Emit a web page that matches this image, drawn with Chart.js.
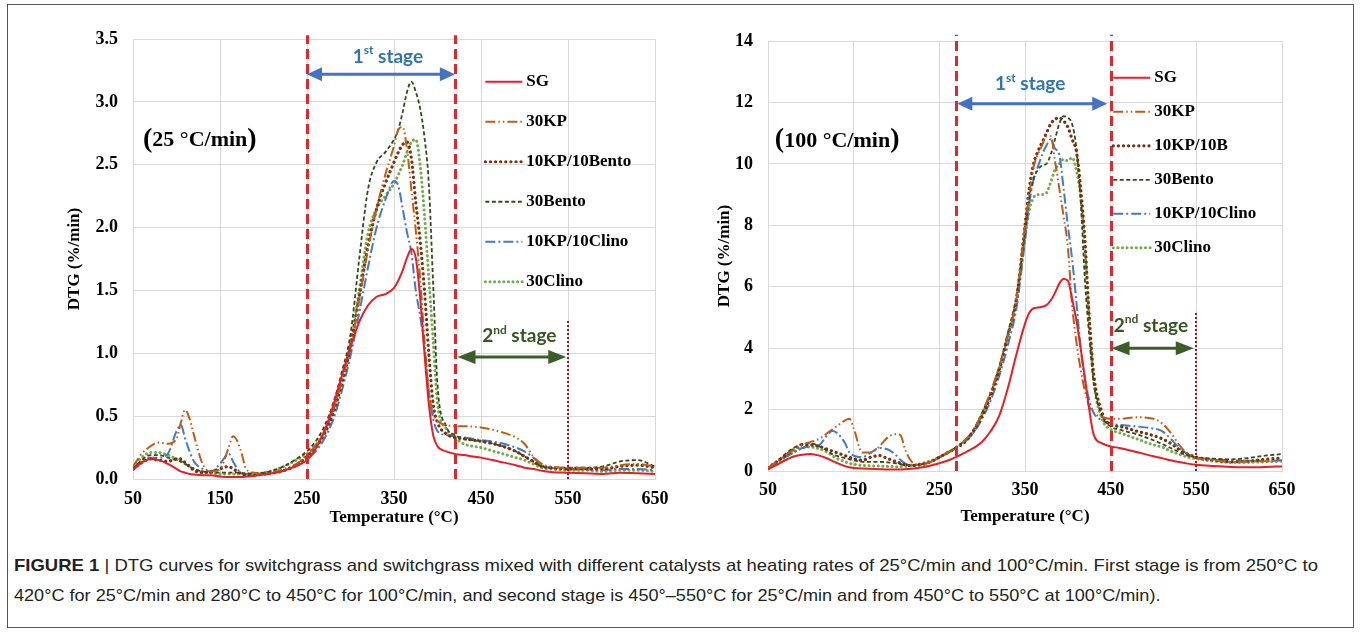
<!DOCTYPE html>
<html>
<head>
<meta charset="utf-8">
<script src="https://cdn.jsdelivr.net/npm/chart.js@4.4.1/dist/chart.umd.min.js"></script>
<style>
body { margin: 0; background: #fff; }
#wrap { position: relative; width: 1360px; height: 632px; overflow: hidden; }
#frame { position: absolute; left: 7px; top: 4px; width: 1347px; height: 624px; border: 1.5px solid #555; box-sizing: border-box; pointer-events: none; }
canvas { position: absolute; top: 0; }
#c1 { left: 0; }
#c2 { left: 680px; }
.cap { position: absolute; left: 14px; font-family: "Liberation Sans", Arial, sans-serif; font-size: 17px; color: #231f20; white-space: nowrap; transform-origin: 0 50%; }
.cap b { font-weight: bold; }
</style>
</head>
<body>
<div id="wrap">
  <canvas id="c1" width="680" height="540"></canvas>
  <canvas id="c2" width="680" height="540"></canvas>
  <div class="cap" id="cap1" style="top:556px"><b>FIGURE 1</b> | DTG curves for switchgrass and switchgrass mixed with different catalysts at heating rates of 25°C/min and 100°C/min. First stage is from 250°C to</div>
  <div class="cap" id="cap2" style="top:586px">420°C for 25°C/min and 280°C to 450°C for 100°C/min, and second stage is 450°–550°C for 25°C/min and from 450°C to 550°C at 100°C/min).</div>
  <div id="frame"></div>
</div>
<script>
// ---- 25 °C/min ----
const tempsL = [50,60,70,80,90,100, 105,110,115,120, 130,140,150,160, 165,170,175,180, 190,200,220,240,
  250,260,270,280, 290,300,310,320, 330,340,350,355, 360,365,370,375, 380,385,390,395,
  400,410,420,430, 450,470,490,500, 510,520,530,550, 570,590,610,630,650];

const sgL = [0.07,0.13,0.16,0.15,0.12,0.08, 0.06,0.05,0.04,0.035, 0.03,0.03,0.02,0.015, 0.015,0.015,0.015,0.02,
  0.025,0.035,0.06,0.11, 0.15,0.24,0.38,0.58, 0.82,1.05,1.25,1.38, 1.45,1.47,1.52,1.58, 1.66,1.76,1.83,1.76,
  1.45,1.0,0.6,0.35, 0.26,0.22,0.2,0.19, 0.17,0.14,0.11,0.09, 0.08,0.065,0.055,0.05, 0.045,0.04,0.05,0.045,0.04];
const kp30L = [0.1,0.2,0.26,0.29,0.28,0.32, 0.45,0.55,0.48,0.35, 0.12,0.06,0.08,0.25, 0.34,0.3,0.2,0.08,
  0.05,0.04,0.07,0.13, 0.19,0.27,0.38,0.55, 0.78,1.05,1.42,1.82, 2.15,2.42,2.65,2.78, 2.8,2.62,2.3,1.98,
  1.6,1.1,0.7,0.52, 0.46,0.43,0.42,0.42, 0.41,0.38,0.33,0.28, 0.18,0.12,0.1,0.09, 0.09,0.09,0.11,0.12,0.1];
const kpBentoL = [0.08,0.13,0.16,0.15,0.14,0.16, 0.16,0.13,0.1,0.07, 0.05,0.06,0.08,0.1, 0.08,0.06,0.04,0.03,
  0.03,0.04,0.06,0.12, 0.18,0.25,0.36,0.52, 0.76,1.05,1.45,1.85, 2.15,2.35,2.52,2.6, 2.66,2.68,2.55,2.2,
  1.9,1.5,1.0,0.6, 0.45,0.36,0.33,0.32, 0.3,0.27,0.22,0.18, 0.14,0.1,0.09,0.08, 0.08,0.08,0.1,0.11,0.09];
const bento30L = [0.08,0.15,0.19,0.19,0.17,0.15, 0.14,0.12,0.1,0.08, 0.06,0.05,0.05,0.05, 0.05,0.05,0.045,0.045,
  0.045,0.05,0.09,0.17, 0.22,0.3,0.42,0.6, 0.85,1.15,1.75,2.3, 2.52,2.6,2.7,2.78, 2.92,3.08,3.16,3.08,
  2.95,2.72,2.35,1.55, 0.75,0.42,0.35,0.32, 0.3,0.27,0.22,0.18, 0.14,0.1,0.09,0.09, 0.09,0.1,0.14,0.15,0.1];
const kpClinoL = [0.08,0.14,0.17,0.17,0.2,0.38, 0.43,0.32,0.22,0.14, 0.08,0.06,0.12,0.2, 0.14,0.08,0.05,0.04,
  0.03,0.04,0.06,0.11, 0.16,0.22,0.32,0.47, 0.7,0.98,1.32,1.68, 2.0,2.22,2.37,2.33, 2.15,1.96,1.8,1.5,
  1.3,1.05,0.7,0.48, 0.38,0.35,0.34,0.33, 0.31,0.29,0.25,0.22, 0.17,0.11,0.09,0.08, 0.08,0.07,0.08,0.08,0.07];
const clino30L = [0.1,0.17,0.21,0.21,0.19,0.16, 0.14,0.12,0.1,0.08, 0.06,0.05,0.04,0.04, 0.04,0.04,0.04,0.04,
  0.04,0.05,0.09,0.16, 0.2,0.27,0.38,0.55, 0.8,1.08,1.5,1.95, 2.15,2.25,2.35,2.42, 2.5,2.6,2.68,2.7,
  2.5,2.1,1.6,1.1, 0.6,0.4,0.33,0.28, 0.25,0.21,0.17,0.15, 0.12,0.09,0.08,0.07, 0.07,0.06,0.07,0.07,0.06];

// ---- 100 °C/min ----
const tempsR = [50,60,70,80,90,100,110, 120,125,130,140, 145,150,160,170, 180,190,200,205, 210,220,230,240,
  250,260,270,280, 290,300,310,320, 330,340,350,355, 360,365,370,375, 380,385,390,395,
  400,405,410,415, 420,425,430,440, 450,460,480,500, 510,520,530,540, 550,570,590,610, 630,650];

const sgR = [0.05,0.2,0.35,0.47,0.53,0.55,0.5, 0.4,0.33,0.27,0.16, 0.12,0.1,0.08,0.07, 0.06,0.05,0.05,0.05,
  0.06,0.08,0.12,0.18, 0.25,0.34,0.46,0.6, 0.75,0.95,1.3,1.8, 2.7,3.8,4.8,5.15, 5.3,5.32,5.35,5.4,
  5.55,5.8,6.1,6.25, 6.2,5.6,4.9,4.0, 3.0,2.0,1.2,0.9, 0.8,0.75,0.62,0.48, 0.42,0.35,0.29,0.24,
  0.2,0.16,0.13,0.12, 0.13,0.15];
const kp30R = [0.1,0.3,0.5,0.7,0.85,0.95,1.05, 1.25,1.35,1.45,1.65, 1.7,1.4,0.6,0.6, 0.8,1.1,1.2,1.15,
  0.7,0.25,0.2,0.3, 0.45,0.6,0.75,1.0, 1.35,1.9,2.6,3.4, 4.4,5.6,8.0,9.0, 9.9,10.3,10.6,10.9,
  10.9,10.1,9.2,8.3, 7.3,5.4,4.2,3.3, 2.6,2.1,1.9,1.75, 1.7,1.7,1.75,1.7, 1.55,1.25,0.85,0.55,
  0.42,0.35,0.3,0.3, 0.32,0.35];
const kpBR = [0.1,0.3,0.5,0.7,0.85,0.85,0.8, 0.7,0.65,0.6,0.5, 0.45,0.4,0.35,0.45, 0.5,0.4,0.3,0.25,
  0.2,0.18,0.22,0.3, 0.45,0.6,0.75,0.95, 1.3,1.8,2.45,3.3, 4.4,5.6,8.0,9.2, 10.0,10.4,10.7,11.0,
  11.3,11.45,11.5,11.4, 11.2,10.8,10.4,9.2, 7.5,5.0,3.2,1.9, 1.5,1.45,1.3,1.15, 1.05,0.9,0.7,0.55,
  0.45,0.35,0.3,0.32, 0.38,0.42];
const bento30R = [0.1,0.3,0.55,0.75,0.88,0.9,0.8, 0.65,0.55,0.5,0.42, 0.38,0.35,0.3,0.3, 0.3,0.28,0.25,0.22,
  0.2,0.18,0.22,0.3, 0.45,0.6,0.78,1.0, 1.35,1.9,2.55,3.4, 4.5,5.7,7.8,8.9, 9.5,9.8,9.95,10.0,
  10.3,10.8,11.3,11.55, 11.5,11.3,10.5,8.8, 6.2,4.4,2.9,1.8, 1.45,1.35,1.2,1.0, 0.88,0.75,0.62,0.5,
  0.45,0.4,0.38,0.42, 0.5,0.55];
const kpClinoR = [0.1,0.25,0.45,0.6,0.75,0.8,0.85, 1.2,1.3,1.25,0.9, 0.6,0.5,0.45,0.6, 0.75,0.7,0.5,0.35,
  0.25,0.2,0.22,0.3, 0.45,0.6,0.75,0.95, 1.25,1.7,2.3,3.1, 4.1,5.3,7.5,8.7, 9.5,9.9,10.3,10.6,
  10.8,10.5,10.3,9.2, 8.0,6.9,5.5,4.0, 3.0,2.3,1.9,1.65, 1.55,1.5,1.45,1.38, 1.3,1.05,0.75,0.55,
  0.45,0.38,0.35,0.33, 0.33,0.35];
const clino30R = [0.1,0.28,0.45,0.62,0.75,0.78,0.72, 0.6,0.5,0.42,0.3, 0.25,0.22,0.18,0.17, 0.16,0.15,0.14,0.14,
  0.15,0.18,0.25,0.33, 0.45,0.6,0.78,1.0, 1.3,1.85,2.5,3.35, 4.4,5.5,7.6,8.5, 8.9,9.0,9.0,9.05,
  9.4,9.8,10.0,10.15, 10.1,10.2,9.8,8.9, 7.2,5.0,3.0,1.7, 1.35,1.25,1.05,0.85, 0.78,0.65,0.55,0.45,
  0.4,0.32,0.28,0.28, 0.3,0.32];

const namesL = ['SG', '30KP', '10KP/10Bento', '30Bento', '10KP/10Clino', '30Clino'];
const namesR = ['SG', '30KP', '10KP/10B', '30Bento', '10KP/10Clino', '30Clino'];
const xTicks = [50, 150, 250, 350, 450, 550, 650];
const yTicksL = [0, 0.5, 1.0, 1.5, 2.0, 2.5, 3.0, 3.5];
const yTicksR = [0, 2, 4, 6, 8, 10, 12, 14];

const styles = [
  { color: '#ec1c24', dash: [], width: 2, cap: 'butt' },
  { color: '#c55a11', dash: [10, 3, 1.5, 3, 1.5, 3], width: 2, cap: 'butt' },
  { color: '#7f2e0c', dash: [0.1, 5], width: 3.2, cap: 'round' },
  { color: '#2e4d1f', dash: [4, 2.5], width: 1.8, cap: 'butt' },
  { color: '#3d7cc9', dash: [10, 3, 2, 3], width: 2, cap: 'butt' },
  { color: '#70ad47', dash: [0.1, 4.5], width: 3, cap: 'round' }
];

const serif = '"Liberation Serif", "Times New Roman", serif';
const sans = 'Lato, "Open Sans", sans-serif';

function makeSets(temps, series, names) {
  return series.map((vals, i) => ({
    label: names[i],
    data: temps.map((t, j) => ({ x: t, y: vals[j] })),
    borderColor: styles[i].color,
    borderDash: styles[i].dash,
    borderWidth: styles[i].width,
    borderCapStyle: styles[i].cap,
    pointRadius: 0,
    fill: false,
    cubicInterpolationMode: 'monotone'
  }));
}

function drawArrow(ctx, x1, x2, y, color, hl, hh) {
  ctx.strokeStyle = color; ctx.fillStyle = color;
  ctx.lineWidth = 3; ctx.setLineDash([]);
  ctx.beginPath(); ctx.moveTo(x1 + hl - 2, y); ctx.lineTo(x2 - hl + 2, y); ctx.stroke();
  ctx.beginPath(); ctx.moveTo(x1, y); ctx.lineTo(x1 + hl, y - hh); ctx.lineTo(x1 + hl, y + hh); ctx.closePath(); ctx.fill();
  ctx.beginPath(); ctx.moveTo(x2, y); ctx.lineTo(x2 - hl, y - hh); ctx.lineTo(x2 - hl, y + hh); ctx.closePath(); ctx.fill();
}

function stageText(ctx, cx, cy, num, sup, color) {
  const big = 'bold 19px ' + sans, small = 'bold 12px ' + sans;
  ctx.fillStyle = color; ctx.textAlign = 'left'; ctx.textBaseline = 'middle';
  ctx.font = big; const w1 = ctx.measureText(num).width; const w3 = ctx.measureText(' stage').width;
  ctx.font = small; const w2 = ctx.measureText(sup).width;
  let x = cx - (w1 + w2 + w3) / 2;
  ctx.font = big; ctx.fillText(num, x, cy); x += w1;
  ctx.font = small; ctx.fillText(sup, x, cy - 6); x += w2;
  ctx.font = big; ctx.fillText(' stage', x, cy);
}

const overlay = {
  id: 'overlay',
  afterDatasetsDraw(chart, args, o) {
    const ctx = chart.ctx;
    const X = v => chart.scales.x.getPixelForValue(v);
    const Y = v => chart.scales.y.getPixelForValue(v);
    ctx.save();
    // stage boundaries
    ctx.strokeStyle = '#e3262b'; ctx.lineWidth = 3; ctx.setLineDash([10, 5]);
    o.dashed.forEach(t => {
      const px = Math.round(X(t)) + 0.5;
      ctx.beginPath(); ctx.moveTo(px, Y(0)); ctx.lineTo(px, Y(o.dashTop)); ctx.stroke();
    });
    ctx.strokeStyle = '#a0141e'; ctx.lineWidth = 2; ctx.setLineDash([2, 2]);
    const dx = Math.round(X(o.dotted));
    ctx.beginPath(); ctx.moveTo(dx, Y(0)); ctx.lineTo(dx, Y(o.dotTop)); ctx.stroke();
    // arrows and stage labels
    drawArrow(ctx, X(o.arrow1[0]), X(o.arrow1[1]), Y(o.arrow1[2]), '#4472c4', 15, 7);
    stageText(ctx, X(o.label1[0]), Y(o.label1[1]), '1', 'st', '#2f75b5');
    drawArrow(ctx, X(o.arrow2[0]), X(o.arrow2[1]), Y(o.arrow2[2]), '#3b5e28', 18, 7);
    stageText(ctx, X(o.label2[0]), Y(o.label2[1]), '2', 'nd', '#375623');
    // heating rate
    let x = X(o.rate[1]); const ry = Y(o.rate[2]);
    ctx.fillStyle = '#000'; ctx.textAlign = 'left'; ctx.textBaseline = 'middle';
    ctx.font = 'bold 28px ' + serif; ctx.fillText('(', x, ry); x += ctx.measureText('(').width;
    ctx.font = 'bold 22px ' + serif; ctx.fillText(o.rate[0], x, ry + 1); x += ctx.measureText(o.rate[0]).width;
    ctx.font = 'bold 28px ' + serif; ctx.fillText(')', x, ry);
    // legend
    const lx = X(o.legend[0]);
    chart.data.datasets.forEach((ds, i) => {
      const ly = Y(o.legend[1]) + i * o.legend[2];
      ctx.strokeStyle = ds.borderColor; ctx.lineWidth = ds.borderWidth;
      ctx.lineCap = ds.borderCapStyle; ctx.setLineDash(ds.borderDash);
      ctx.beginPath(); ctx.moveTo(lx, ly); ctx.lineTo(lx + 37, ly); ctx.stroke();
      ctx.fillStyle = '#000'; ctx.font = 'bold 17px ' + serif;
      ctx.fillText(ds.label, lx + 41, ly);
    });
    ctx.restore();
  }
};

function makeChart(id, temps, series, names, yTicks, yMax, fmt, lay, over) {
  return new Chart(document.getElementById(id), {
    type: 'line',
    data: { datasets: makeSets(temps, series, names) },
    plugins: [overlay],
    options: {
      responsive: false,
      animation: false,
      layout: { padding: { left: 0, top: lay.top, right: lay.right, bottom: 0 } },
      plugins: { legend: { display: false }, tooltip: { enabled: false }, overlay: over },
      scales: {
        x: {
          type: 'linear', min: 50, max: 650,
          afterBuildTicks: s => { s.ticks = xTicks.map(v => ({ value: v })); },
          afterFit: s => { s.height = lay.xh; s.paddingLeft = 0; s.paddingRight = 0; },
          grid: { color: '#d9d9d9', drawTicks: false },
          border: { color: '#d9d9d9' },
          ticks: { padding: lay.xpad, color: '#000', font: { family: serif, size: 18, weight: 'bold' } },
          title: { display: true, text: 'Temperature (°C)', color: '#000',
                   padding: { top: 0, bottom: lay.xtb }, font: { family: serif, size: 17, weight: 'bold' } }
        },
        y: {
          min: 0, max: yMax,
          afterBuildTicks: s => { s.ticks = yTicks.map(v => ({ value: v })); },
          afterFit: s => { s.width = lay.yw; s.paddingTop = 0; s.paddingBottom = 0; },
          grid: { color: '#d9d9d9', drawTicks: false },
          border: { color: '#d9d9d9' },
          ticks: { padding: 15, color: '#000', callback: fmt, font: { family: serif, size: 18, weight: 'bold' } },
          title: { display: true, text: 'DTG (%/min)', color: '#000',
                   padding: { top: lay.ytt, bottom: 0 }, font: { family: serif, size: 17, weight: 'bold' } }
        }
      }
    }
  });
}

makeChart('c1', tempsL, [sgL, kp30L, kpBentoL, bento30L, kpClinoL, clino30L], namesL, yTicksL, 3.5,
  v => v.toFixed(1),
  { top: 39, right: 25, xh: 61, yw: 133, xpad: 10, xtb: 12, ytt: 64 },
  { dashed: [250, 420], dashTop: 3.53, dotted: 550, dotTop: 1.265,
    arrow1: [250, 420, 3.22], label1: [343, 3.36],
    arrow2: [423, 548, 0.97], label2: [494, 1.14],
    rate: ['25 °C/min', 61.5, 2.70], legend: [455, 3.16, 40] });

makeChart('c2', tempsR, [sgR, kp30R, kpBR, bento30R, kpClinoR, clino30R], namesR, yTicksR, 14,
  v => String(v),
  { top: 41, right: 78, xh: 69, yw: 88, xpad: 9, xtb: 13, ytt: 34 },
  { dashed: [270, 450], dashTop: 14.2, dotted: 550, dotTop: 5.16,
    arrow1: [271, 446, 11.96], label1: [356, 12.6],
    arrow2: [451, 547, 4.0], label2: [497, 4.74],
    rate: ['100 °C/min', 58, 10.78], legend: [453, 12.8, 34] });

// stretch caption lines to the widths of the printed figure
[['cap1', 1304], ['cap2', 1146]].forEach(([id, w]) => {
  const el = document.getElementById(id);
  el.style.transform = 'scaleX(' + (w / el.offsetWidth) + ')';
});
</script>
</body>
</html>
